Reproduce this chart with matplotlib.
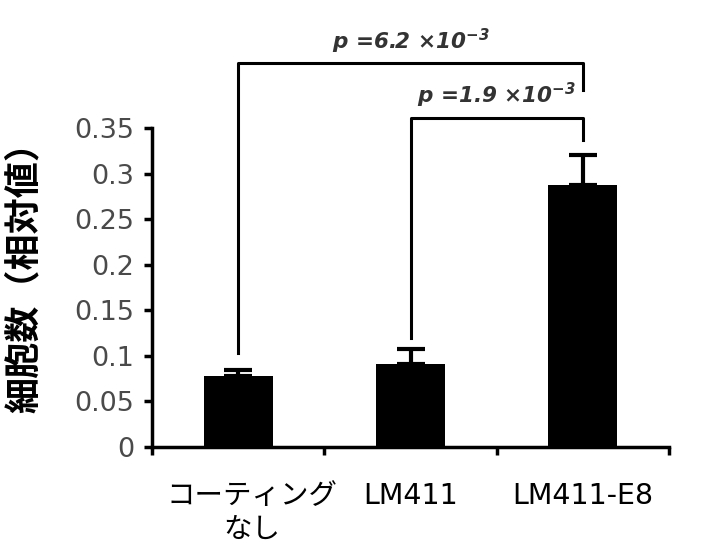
import matplotlib.pyplot as plt
import matplotlib.transforms as mtransforms

plt.rcParams['font.family'] = ['DejaVu Sans', 'Noto Sans CJK JP']
plt.rcParams['mathtext.fontset'] = 'custom'
plt.rcParams['mathtext.rm'] = 'DejaVu Sans:bold:italic'
plt.rcParams['mathtext.it'] = 'DejaVu Sans:bold:italic'

# データ
groups = ['コーティング\nなし', 'LM411', 'LM411-E8']
values = [0.078, 0.091, 0.288]
errors = [0.007, 0.016, 0.032]
y_ticks = [0, 0.05, 0.1, 0.15, 0.2, 0.25, 0.3, 0.35]
y_tick_labels = ['0', '0.05', '0.1', '0.15', '0.2', '0.25', '0.3', '0.35']
# 有意差の括弧: (左, 右, 高さ, 左端下, 右端下, ラベル)
brackets = [
    (0, 2, 0.421, 0.103, 0.392, r'$p$ =6.2 ×10$^{-3}$'),
    (1, 2, 0.361, 0.120, 0.337, r'$p$ =1.9 ×10$^{-3}$'),
]

fig = plt.figure(figsize=(7.25, 5.47), dpi=100)
ax = fig.add_axes([0.2097, 0.1828, 0.7131, 0.5832])

x = range(len(groups))
ax.bar(x, values, width=0.4, color='black', zorder=2)
ax.errorbar(x, values, yerr=[[0] * len(errors), errors], fmt='none',
            ecolor='black', elinewidth=3, capsize=10, capthick=3, zorder=3)

ax.set_xlim(-0.5, 2.5)
ax.set_ylim(0, 0.35)
ax.set_yticks(y_ticks)
ax.set_yticklabels(y_tick_labels, fontsize=19.5, color='#4a4a4a')
ax.set_xticks(list(x))
ax.set_xticklabels(groups, fontsize=20.5, linespacing=1.3)
ax.set_xticks([-0.5, 0.5, 1.5, 2.5], minor=True)
ax.tick_params(axis='x', which='major', length=0, pad=25)
ax.tick_params(axis='x', which='minor', length=6, width=2.5, direction='out')
ax.tick_params(axis='y', length=6, width=2.5, direction='out', pad=7)

# 1つ目のラベルは少し右寄り
lbl = ax.get_xticklabels()[0]
lbl.set_transform(lbl.get_transform() +
                  mtransforms.ScaledTranslation(14 / 100, 0, fig.dpi_scale_trans))

for side in ['top', 'right']:
    ax.spines[side].set_visible(False)
for side in ['left', 'bottom']:
    ax.spines[side].set_linewidth(2.5)

ax.set_ylabel('細胞数（相対値）', fontsize=26, fontweight='bold',
              family=['Noto Sans CJK JP'])
ax.yaxis.set_label_coords(-0.211, 0.56)

for x0, x1, h, y0, y1, label in brackets:
    ax.plot([x0, x0, x1, x1], [y0, h, h, y1], color='black', lw=2.2, clip_on=False)
    ax.text((x0 + x1) / 2, h + 0.016, label,
            ha='center', va='baseline', fontsize=15.5, fontweight='bold',
            fontstyle='italic', color='#333333')

fig.savefig('out.png', dpi=100)
